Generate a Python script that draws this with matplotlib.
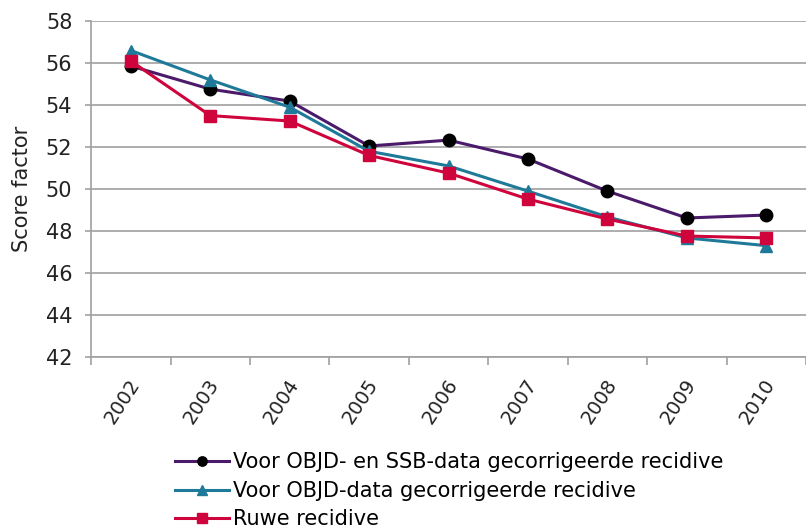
import matplotlib
matplotlib.use("Agg")
import matplotlib.pyplot as plt
import matplotlib.transforms as mtransforms
import numpy as np

years = ["2002", "2003", "2004", "2005", "2006", "2007", "2008", "2009", "2010"]
objd_ssb = [55.86, 54.76, 54.19, 52.05, 52.33, 51.43, 49.9, 48.62, 48.76]
objd = [56.6, 55.2, 53.9, 51.8, 51.1, 49.9, 48.67, 47.67, 47.3]
ruwe = [56.1, 53.5, 53.24, 51.6, 50.76, 49.52, 48.57, 47.76, 47.67]
labels = ["Voor OBJD- en SSB-data gecorrigeerde recidive",
          "Voor OBJD-data gecorrigeerde recidive",
          "Ruwe recidive"]

fig = plt.figure(figsize=(8.06, 5.28), dpi=100)
ax = fig.add_axes([0.113, 0.324, 0.887, 0.636])
x = np.arange(len(years))
l1, = ax.plot(x, objd_ssb, color="#4B1A6B", lw=2.2, marker="o", ms=9,
              mfc="black", mec="black", zorder=3)
l2, = ax.plot(x, objd, color="#1F7A99", lw=2.2, marker="^", ms=9,
              mfc="#1F7A99", mec="#1F7A99", zorder=4)
l3, = ax.plot(x, ruwe, color="#D0043C", lw=2.2, marker="s", ms=9,
              mfc="#D0043C", mec="#D0043C", zorder=5)

ax.set_xlim(-0.5, len(years) - 0.5)
ax.set_ylim(42, 58)
ax.set_yticks(np.arange(42, 59, 2))
ax.yaxis.grid(True, color="#A0A0A0", lw=1.2)
ax.set_axisbelow(True)
for s in ["top", "right"]:
    ax.spines[s].set_visible(False)
for s in ["left", "bottom"]:
    ax.spines[s].set_color("#A0A0A0")
    ax.spines[s].set_linewidth(1.2)
ax.set_xticks(x)
ax.set_xticklabels(years, rotation=57, ha="right", va="center",
                   rotation_mode="anchor", fontsize=14, color="#222222")
ax.tick_params(axis="x", which="major", length=0, pad=17)
offset = mtransforms.ScaledTranslation(5 / 100, 0, fig.dpi_scale_trans)
for lab in ax.get_xticklabels():
    lab.set_transform(lab.get_transform() + offset)
ax.set_xticks(np.arange(-0.5, len(years), 1), minor=True)
ax.tick_params(axis="x", which="minor", length=6, color="#A0A0A0", width=1.2)
ax.tick_params(axis="y", length=4.5, color="#A0A0A0", width=1.2, pad=9,
               labelsize=15, labelcolor="#222222")
ax.set_ylabel("Score factor", fontsize=15, color="#222222", labelpad=10)

fig.legend([l1, l2, l3], labels, loc="upper left",
           bbox_to_anchor=(0.217, 0.143), frameon=False, fontsize=15,
           handlelength=2.6, handletextpad=0.2, labelspacing=0.4,
           borderaxespad=0, borderpad=0, markerscale=0.75)

fig.savefig("out.png", dpi=100)
